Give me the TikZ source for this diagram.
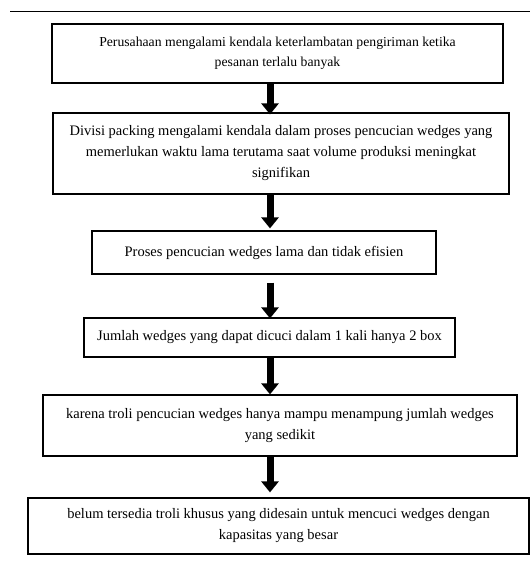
\documentclass[tikz,border=0pt]{standalone}
\usepackage{fontspec}
\setmainfont{Liberation Serif}
\usepackage{tikz}
\usetikzlibrary{calc}
\usetikzlibrary{arrows.meta}

\tikzset{
  stepbox/.style={draw, line width=1.2pt, align=center, inner sep=0pt,
    font=\fontsize{14.5}{21}\selectfont},
  flowarrow/.style={line width=7pt,
    -{Triangle[width=17pt,length=11pt]}}
}

\begin{document}
\begin{tikzpicture}[x=1pt,y=-1pt]
  \useasboundingbox (0,0) rectangle (530,561);
  \draw [line width=0.9pt] (10,11) -- (530,11);
  \coordinate (axis) at (270,0);
  \node [stepbox, minimum width=451pt, minimum height=59pt,
    font=\fontsize{13.7}{20}\selectfont] (b1) at (277.5,53.5)
    {Perusahaan mengalami kendala keterlambatan pengiriman ketika\\
     pesanan terlalu banyak};
  \node [stepbox, minimum width=456pt, minimum height=81pt] (b2) at (281,153.5)
    {Divisi packing mengalami kendala dalam proses pencucian wedges yang\\
     memerlukan waktu lama terutama saat volume produksi meningkat\\
     signifikan};
  \node [stepbox, minimum width=344pt, minimum height=43pt] (b3) at (264,252.5)
    {Proses pencucian wedges lama dan tidak efisien};
  \node [stepbox, minimum width=371pt, minimum height=39pt] (b4) at (269.5,337.5)
    {Jumlah wedges yang dapat dicuci dalam 1 kali hanya 2 box};
  \node [stepbox, minimum width=474pt, minimum height=61pt] (b5) at (280,425.5)
    {karena troli pencucian wedges hanya mampu menampung jumlah wedges\\
     yang sedikit};
  \node [stepbox, minimum width=501pt, minimum height=56pt] (b6) at (278.5,526)
    {belum tersedia troli khusus yang didesain untuk mencuci wedges dengan\\
     kapasitas yang besar};
  \draw [flowarrow] (b1.south -| axis) -- ($ (b2.north -| axis)+(0,2) $);
  \draw [flowarrow] (b2.south -| axis) -- ($ (b3.north -| axis)+(0,-2) $);
  \draw [flowarrow, shorten <=8pt] (b3.south -| axis) -- ($ (b4.north -| axis)+(0,1) $);
  \draw [flowarrow] (b4.south -| axis) -- (b5.north -| axis);
  \draw [flowarrow, shorten >=5pt] (b5.south -| axis) -- (b6.north -| axis);
\end{tikzpicture}
\end{document}
